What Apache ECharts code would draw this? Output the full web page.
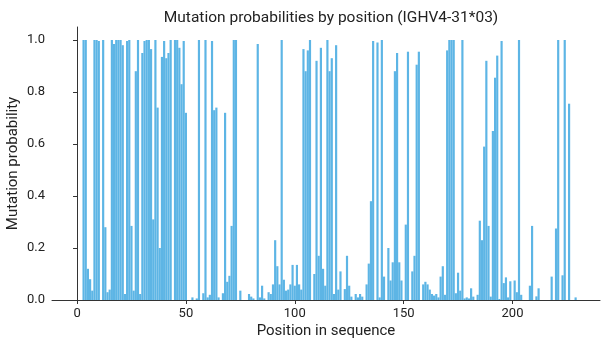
<!DOCTYPE html>
<html lang="en">
<head>
    <meta charset="UTF-8"/>
    <title>Mutation probabilities by position</title>
    <script src="https://cdn.jsdelivr.net/npm/echarts@6/dist/echarts.min.js"></script>
    <style>
        html, body {margin: 0; padding: 0; background: #fff;}
        #chart {width: 601px; height: 347px;}
    </style>
</head>
<body>
<div id="chart"></div>
<script type="text/javascript">
    // mutation probability for sequence positions 1..229 (index 0 -> position 1)
    var probabilities = [
        0, 0, 1.0, 1.0, 0.12, 0.08, 0.036, 1.0, 1.0, 0.996,
        0, 1.0, 0.28, 0.03, 0.04, 1.0, 0.985, 1.0, 1.0, 1.0,
        0.98, 0.023, 0.996, 1.0, 0.285, 0.036, 0.88, 1.0, 0.023, 0.95,
        0.996, 1.0, 1.0, 0.965, 0.31, 1.0, 0.74, 0.2, 0.935, 0.996,
        0.93, 0.95, 1.0, 0, 1.0, 1.0, 0.97, 0.83, 0.996, 0.72,
        0, 0, 0.01, 0, 0.006, 1.0, 0, 0.026, 1.0, 0.01,
        0.02, 0.996, 0.73, 0.74, 0.01, 0, 0.026, 0.72, 0.07, 0.093,
        0.285, 1.0, 1.0, 0, 0.036, 0, 0, 0, 0.023, 0.013,
        0.006, 0, 0.985, 0.01, 0.055, 0.006, 0, 0.03, 0.023, 0.06,
        0.23, 0.13, 0.06, 1.0, 0.078, 0.036, 0.04, 0.06, 0.135, 0.055,
        0.135, 0.06, 0.04, 0.965, 0.88, 0.96, 1.0, 0, 0.1, 0.92,
        0.17, 0.97, 0.12, 0.055, 1.0, 0.88, 0.93, 0.023, 0.98, 0.04,
        0.11, 0, 0.042, 0.17, 0.055, 0.013, 0, 0.023, 0.01, 0.023,
        0.013, 0, 0.06, 0.14, 0.38, 0.996, 0, 0.99, 0.01, 1.0,
        0.09, 0, 0.2, 0.075, 0.145, 0.88, 0.95, 0.145, 0.075, 0,
        0.29, 0.955, 0, 0.11, 0.17, 0.905, 0.955, 0, 0.06, 0.07,
        0.06, 0.04, 0.023, 0.017, 0.023, 0.01, 0.09, 0.13, 0.02, 0.96,
        1.0, 1.0, 1.0, 0.026, 0.105, 0.036, 1.0, 0.006, 0.01, 0.006,
        0.045, 0.013, 0, 0.02, 0.305, 0.23, 0.59, 0.92, 0.285, 0.013,
        0.65, 0.855, 0.94, 0.004, 0.996, 0.065, 0.087, 0.01, 0.072, 0,
        0.075, 0.03, 1.0, 0.02, 0, 0, 0, 0.055, 0.285, 0,
        0.014, 0.045, 0, 0, 0, 0, 0, 0.09, 0, 0.275,
        1.0, 0, 0.095, 1.0, 0, 0.755, 0, 0, 0.01
    ];
    var xTicks = [0, 50, 100, 150, 200];
    var yTicks = [0, 0.2, 0.4, 0.6, 0.8, 1.0];

    var barData = [];
    for (var i = 0; i < probabilities.length; i++) {
        barData.push([i + 1, probabilities[i]]);
    }

    var textColor = '#222';
    var lineColor = '#333';
    var fontFamily = 'Roboto, "DejaVu Sans", sans-serif';

    var chart = echarts.init(document.getElementById('chart'), null, {renderer: 'canvas'});
    chart.setOption({
        animation: false,
        textStyle: {fontFamily: fontFamily},
        title: {
            text: 'Mutation probabilities by position (IGHV4-31*03)',
            left: 326,
            textAlign: 'center',
            top: 5,
            textStyle: {fontSize: 15.5, fontWeight: 'normal', color: textColor, fontFamily: fontFamily}
        },
        grid: {left: 52, right: 1, top: 27, bottom: 47, outerBoundsMode: 'none'},
        xAxis: {
            type: 'value',
            min: -11.5,
            max: 240.2,
            name: 'Position in sequence',
            nameLocation: 'middle',
            nameGap: 24,
            nameMoveOverlap: false,
            nameTextStyle: {fontSize: 15, color: textColor},
            axisLine: {show: true, lineStyle: {color: lineColor, width: 1}},
            axisTick: {show: true, customValues: xTicks, length: 4, lineStyle: {color: lineColor}},
            axisLabel: {customValues: xTicks, fontSize: 13, color: textColor, margin: 7},
            splitLine: {show: false}
        },
        yAxis: {
            type: 'value',
            min: 0,
            max: 1.05,
            name: 'Mutation probability',
            nameLocation: 'middle',
            nameGap: 31,
            nameMoveOverlap: false,
            nameRotate: 90,
            nameTextStyle: {fontSize: 15, color: textColor},
            axisLine: {show: true, lineStyle: {color: lineColor, width: 1}},
            axisTick: {show: true, customValues: yTicks, length: 4, lineStyle: {color: lineColor}},
            axisLabel: {
                customValues: yTicks,
                fontSize: 13,
                color: textColor,
                margin: 7,
                formatter: function (v) { return v.toFixed(1); }
            },
            splitLine: {show: false}
        },
        series: [{
            type: 'bar',
            data: barData,
            barWidth: 2.18,
            itemStyle: {color: '#5db5e5'}
        }]
    });
</script>
</body>
</html>
